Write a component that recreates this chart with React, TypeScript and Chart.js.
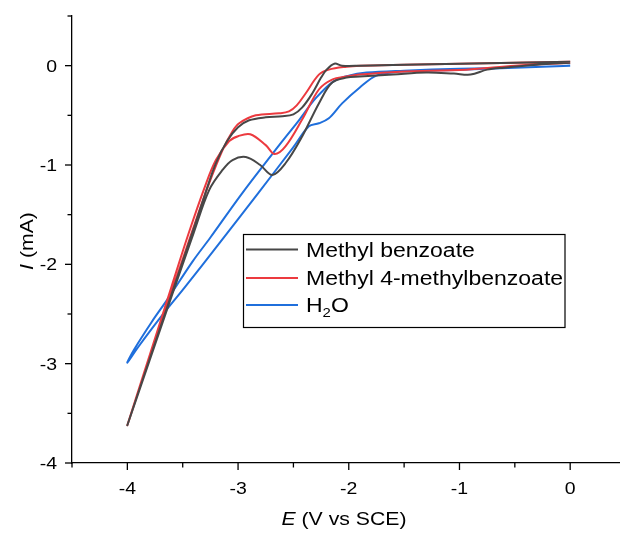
import React, { useEffect, useRef } from 'react';
import { Chart, registerables } from 'chart.js';

Chart.register(...registerables);

// ---- Data (cyclic voltammograms: 0 V -> -4 V -> 0 V) ----
const seriesNames = ['Methyl benzoate', 'Methyl 4-methylbenzoate', 'H2O'];
const seriesColors = ['#474747', '#ec3a3f', '#1f6fdc'];

const mbE = [0, -0.3, -0.6, -0.75, -0.9, -1.05, -1.3, -1.6, -1.9, -2.02, -2.15, -2.27, -2.42, -2.57, -2.69, -2.8, -2.93, -3.05, -3.14, -3.26, -3.4, -3.6, -3.8, -4,
  -3.8, -3.6, -3.4, -3.3, -3.2, -3.1, -3.0, -2.9, -2.75, -2.6, -2.5, -2.42, -2.33, -2.25, -2.2, -2.13, -2.06, -1.9, -1.5, -1.0, -0.5, 0];
const mbI = [0.03, 0.01, -0.02, -0.04, -0.09, -0.08, -0.07, -0.09, -0.11, -0.12, -0.17, -0.38, -0.71, -0.98, -1.10, -1.0, -0.92, -0.95, -1.05, -1.25, -1.68, -2.32, -2.97, -3.62,
  -2.96, -2.30, -1.64, -1.30, -0.98, -0.76, -0.62, -0.55, -0.52, -0.51, -0.49, -0.42, -0.28, -0.12, -0.04, 0.02, 0.0, 0.0, 0.01, 0.02, 0.03, 0.04];

const mmE = [0, -0.5, -0.94, -1.54, -1.9, -2.02, -2.15, -2.27, -2.42, -2.57, -2.67, -2.75, -2.89, -3.0, -3.08, -3.2, -3.3, -3.45, -3.6, -3.8, -4,
  -3.8, -3.6, -3.4, -3.26, -3.14, -3.05, -2.99, -2.84, -2.63, -2.54, -2.47, -2.39, -2.27, -2.18, -2.02, -1.9, -1.5, -1.0, -0.5, 0];
const mmI = [0.03, 0.0, -0.04, -0.06, -0.09, -0.11, -0.14, -0.24, -0.54, -0.81, -0.89, -0.80, -0.69, -0.71, -0.76, -0.95, -1.22, -1.70, -2.22, -2.92, -3.62,
  -2.94, -2.28, -1.62, -1.18, -0.85, -0.66, -0.58, -0.50, -0.48, -0.46, -0.40, -0.28, -0.09, -0.04, -0.01, 0.0, 0.01, 0.02, 0.03, 0.04];

const wE = [0, -0.5, -1.0, -1.5, -1.84, -2.0, -2.14, -2.3, -2.45, -2.6, -2.96, -3.25, -3.41, -3.63, -3.78, -3.94, -4,
  -3.9, -3.69, -3.48, -3.17, -2.83, -2.5, -2.36, -2.27, -2.18, -2.06, -1.9, -1.75, -1.54, -1.0, -0.5, 0];
const wI = [0.0, -0.02, -0.03, -0.05, -0.07, -0.10, -0.16, -0.33, -0.55, -0.76, -1.28, -1.73, -1.97, -2.34, -2.58, -2.86, -2.99,
  -2.83, -2.52, -2.23, -1.79, -1.30, -0.82, -0.61, -0.58, -0.53, -0.38, -0.22, -0.10, -0.06, -0.04, -0.02, 0.0];

const seriesE = [mbE, mmE, wE];
const seriesI = [mbI, mmI, wI];

const xMajorTicks = [-4, -3, -2, -1, 0];
const xMinorTicks = [-4.5, -3.5, -2.5, -1.5, -0.5];
const yMajorTicks = [0, -1, -2, -3, -4];
const yMinorTicks = [0.5, -0.5, -1.5, -2.5, -3.5];

const FONT = '"Liberation Sans", Arial, sans-serif';
const SX = 1.18;

type Part = { t: string; size: number; italic?: boolean; dy?: number };

function fontOf(p: Part) {
  return `${p.italic ? 'italic ' : ''}${p.size}px ${FONT}`;
}

function drawRich(ctx: CanvasRenderingContext2D, parts: Part[], x: number, y: number, align: 'left' | 'center' | 'right') {
  const widths = parts.map((p) => {
    ctx.font = fontOf(p);
    return ctx.measureText(p.t).width;
  });
  const total = widths.reduce((a, b) => a + b, 0) * SX;
  const start = align === 'left' ? x : align === 'center' ? x - total / 2 : x - total;
  ctx.save();
  ctx.translate(start, y);
  ctx.scale(SX, 1);
  ctx.textAlign = 'left';
  ctx.textBaseline = 'alphabetic';
  let cx = 0;
  parts.forEach((p, i) => {
    ctx.font = fontOf(p);
    ctx.fillText(p.t, cx, p.dy || 0);
    cx += widths[i];
  });
  ctx.restore();
}

function labelParts(name: string, size: number): Part[] {
  if (name === 'H2O') {
    return [
      { t: 'H', size },
      { t: '2', size: size * 0.65, dy: 5 },
      { t: 'O', size },
    ];
  }
  return [{ t: name, size }];
}

const overlay = {
  id: 'overlay',
  afterDraw(chart: any) {
    const ctx: CanvasRenderingContext2D = chart.ctx;
    const xs = chart.scales.x;
    const ys = chart.scales.y;
    const ca = chart.chartArea;
    ctx.save();
    ctx.strokeStyle = '#000';
    ctx.fillStyle = '#000';
    ctx.lineWidth = 1.3;

    const tick = (x1: number, y1: number, x2: number, y2: number) => {
      ctx.beginPath();
      ctx.moveTo(x1, y1);
      ctx.lineTo(x2, y2);
      ctx.stroke();
    };

    xMajorTicks.forEach((v) => {
      const px = xs.getPixelForValue(v);
      tick(px, ca.bottom, px, ca.bottom + 7);
      drawRich(ctx, [{ t: String(v), size: 16.5 }], px, 493.5, 'center');
    });
    xMinorTicks.forEach((v) => {
      const px = xs.getPixelForValue(v);
      tick(px, ca.bottom, px, ca.bottom + 4.5);
    });
    yMajorTicks.forEach((v) => {
      const py = ys.getPixelForValue(v);
      tick(ca.left, py, ca.left - 7, py);
      drawRich(ctx, [{ t: String(v), size: 16.5 }], 57, py + 5.9, 'right');
    });
    yMinorTicks.forEach((v) => {
      const py = ys.getPixelForValue(v);
      tick(ca.left, py, ca.left - 4.5, py);
    });

    // axis titles
    drawRich(ctx, [{ t: 'E', size: 18, italic: true }, { t: ' (V vs SCE)', size: 18 }], 344, 525, 'center');
    ctx.save();
    ctx.translate(33, 241);
    ctx.rotate(-Math.PI / 2);
    drawRich(ctx, [{ t: 'I', size: 18, italic: true }, { t: ' (mA)', size: 18 }], 0, 0, 'center');
    ctx.restore();

    // legend
    const bx = 243.5, by = 234.5, bw = 321.5, bh = 93;
    ctx.fillStyle = '#fff';
    ctx.fillRect(bx, by, bw, bh);
    ctx.strokeStyle = '#000';
    ctx.lineWidth = 1.2;
    ctx.strokeRect(bx, by, bw, bh);
    const rowLine = [249.5, 278, 305];
    const rowBase = [257, 285, 312];
    seriesNames.forEach((name, i) => {
      ctx.strokeStyle = seriesColors[i];
      ctx.lineWidth = 2;
      tick(246, rowLine[i], 298, rowLine[i]);
      ctx.fillStyle = '#000';
      drawRich(ctx, labelParts(name, 19.5), 306, rowBase[i], 'left');
    });
    ctx.restore();
  },
};

export default function App() {
  const ref = useRef<HTMLCanvasElement | null>(null);
  useEffect(() => {
    if (!ref.current) return;
    const datasets = seriesNames.map((name, i) => ({
      label: name,
      data: seriesE[i].map((e, j) => ({ x: e, y: seriesI[i][j] })),
      borderColor: seriesColors[i],
      backgroundColor: seriesColors[i],
      borderWidth: 2,
      pointRadius: 0,
      showLine: true,
      tension: 0.35,
      fill: false,
    }));
    const chart = new Chart(ref.current, {
      type: 'scatter',
      data: { datasets },
      options: {
        animation: false,
        responsive: false,
        maintainAspectRatio: false,
        devicePixelRatio: 1,
        layout: { padding: { top: 16, right: 0, left: 0, bottom: 0 } },
        plugins: { legend: { display: false }, tooltip: { enabled: false } },
        scales: {
          x: {
            type: 'linear',
            min: -4.5,
            max: 0.45,
            grid: { display: false },
            ticks: { display: false },
            border: { display: true, color: '#000', width: 1.3 },
            afterFit: (s: any) => { s.height = 71; },
          },
          y: {
            type: 'linear',
            min: -4,
            max: 0.5,
            grid: { display: false },
            ticks: { display: false },
            border: { display: true, color: '#000', width: 1.3 },
            afterFit: (s: any) => { s.width = 72; },
          },
        },
      },
      plugins: [overlay],
    } as any);
    return () => chart.destroy();
  }, []);
  return (
    <div style={{ position: 'absolute', left: 0, top: 0, width: 620, height: 534, background: '#fff' }}>
      <canvas ref={ref} width={620} height={534} style={{ display: 'block', width: 620, height: 534 }} />
    </div>
  );
}
